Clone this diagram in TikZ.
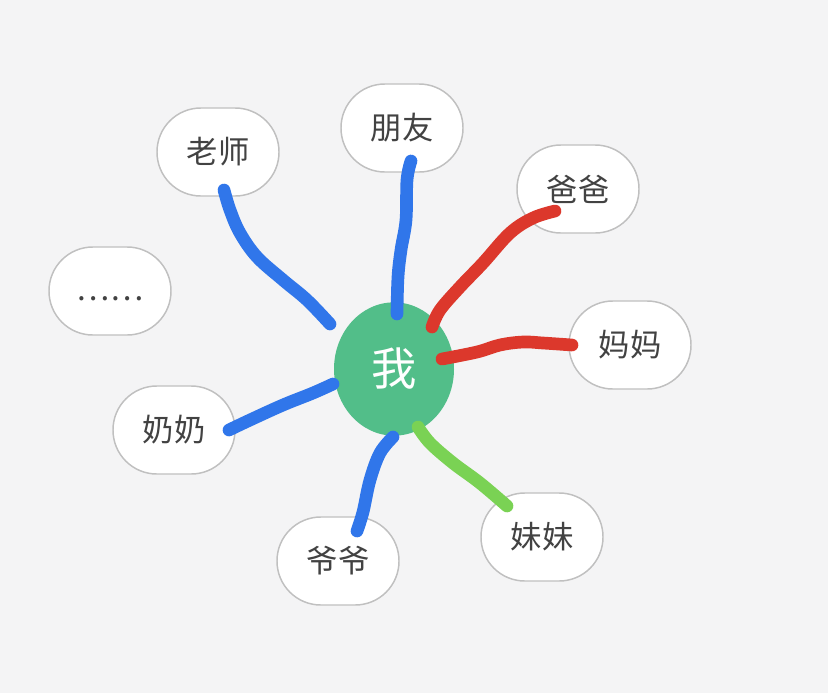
\documentclass[tikz,border=0pt]{standalone}
\usepackage{fontspec}
\setmainfont{Noto Sans CJK SC}
\usetikzlibrary{shapes.geometric}
\definecolor{bg}{RGB}{244,244,245}
\definecolor{boxline}{RGB}{192,192,192}
\definecolor{ink}{RGB}{66,66,66}
\definecolor{megreen}{RGB}{82,190,137}
\definecolor{penblue}{RGB}{48,118,234}
\definecolor{penred}{RGB}{220,56,44}
\definecolor{pengreen}{RGB}{122,210,84}
\begin{document}
\begin{tikzpicture}[x=0.75pt,y=-0.75pt,
  word/.style={draw=boxline, line width=1.1pt, fill=white, rounded corners=32.9pt,
    minimum width=91.5pt, minimum height=66pt, text=ink, font=\fontsize{23.5}{23.5}\selectfont},
  me/.style={ellipse, fill=megreen, minimum width=90pt, minimum height=100pt,
    text=white, font=\fontsize{34}{34}\selectfont},
  pen/.style={line width=9.5pt, line cap=round, line join=round}]
  \fill[bg] (0,0) rectangle (828,693);
  \useasboundingbox (0,0) rectangle (828,693);
  % the centre and the words round it
  \node[me] (wo) at (394,369) {我};
  \node[word] (laoshi) at (218,152) {老师};
  \node[word] (pengyou) at (402,128) {朋友};
  \node[word] (baba) at (578,189) {爸爸};
  \node[word] (more) at (110,291) {\smash{\raisebox{-7pt}{……}}};
  \node[word] (mama) at (630,345) {妈妈};
  \node[word] (nainai) at (174,430) {奶奶};
  \node[word] (yeye) at (338,561) {爷爷};
  \node[word] (meimei) at (542,537) {妹妹};
  % ends of the strokes
  \coordinate (laoshi-e) at (224,190);   \coordinate (wo-laoshi) at (330,324);
  \coordinate (pengyou-e) at (411,161);  \coordinate (wo-pengyou) at (397,314);
  \coordinate (baba-e) at (555,211);     \coordinate (wo-baba) at (432,327);
  \coordinate (mama-e) at (572,345);     \coordinate (wo-mama) at (442,359);
  \coordinate (nainai-e) at (229,430);   \coordinate (wo-nainai) at (333,384);
  \coordinate (yeye-e) at (357,531);     \coordinate (wo-yeye) at (393,437);
  \coordinate (meimei-e) at (507,506);   \coordinate (wo-meimei) at (418,427);
  % hand drawn strokes
  \draw[pen, penblue] plot[smooth, tension=0.6] coordinates {(laoshi-e) (230,210) (240,233) (257,257) (283,280) (307,300) (wo-laoshi)};
  \draw[pen, penblue] plot[smooth, tension=0.6] coordinates {(pengyou-e) (407,180) (406,220) (401,250) (398,277) (wo-pengyou)};
  \draw[pen, penred] plot[smooth, tension=0.6] coordinates {(baba-e) (533,218) (510,233) (483,263) (460,287) (440,310) (wo-baba)};
  \draw[pen, penred] plot[smooth, tension=0.6] coordinates {(mama-e) (543,343) (523,342) (500,345) (477,352) (wo-mama)};
  \draw[pen, penblue] plot[smooth, tension=0.6] coordinates {(nainai-e) (250,420) (283,405) (313,393) (wo-nainai)};
  \draw[pen, penblue] plot[smooth, tension=0.6] coordinates {(wo-yeye) (380,453) (370,480) (363,512) (yeye-e)};
  \draw[pen, pengreen] plot[smooth, tension=0.6] coordinates {(wo-meimei) (430,443) (453,463) (480,483) (meimei-e)};
\end{tikzpicture}
\end{document}
